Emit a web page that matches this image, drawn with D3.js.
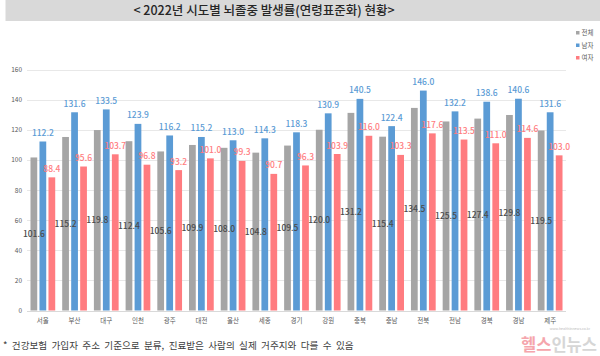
<!DOCTYPE html>
<html><head><meta charset="utf-8">
<script src="https://cdn.jsdelivr.net/npm/d3@7"></script>
<style>
html,body{margin:0;padding:0;background:#fff;}
svg{display:block;font-family:"Noto Sans CJK KR","Noto Sans",sans-serif;}
</style></head>
<body>
<svg id="c" width="600" height="356"></svg>
<script>
const categories = ["서울","부산","대구","인천","광주","대전","울산","세종","경기","강원","충북","충남","전북","전남","경북","경남","제주"];
const totalValues = [101.6,115.2,119.8,112.4,105.6,109.9,108.0,104.8,109.5,120.0,131.2,115.4,134.5,125.5,127.4,129.8,119.5];
const maleValues  = [112.2,131.6,133.5,123.9,116.2,115.2,113.0,114.3,118.3,130.9,140.5,122.4,146.0,132.2,138.6,140.6,131.6];
const femaleValues= [88.4,95.6,103.7,96.8,93.2,101.0,99.3,90.7,96.3,103.9,116.0,103.3,117.6,113.5,111.0,114.6,103.0];
const seriesNames = ["전체","남자","여자"];
const yTicks = [0,20,40,60,80,100,120,140,160];
const titleText = "< 2022년 시도별 뇌졸중 발생률(연령표준화) 현황>";
const footnoteText = "* 건강보험 가입자 주소 기준으로 분류, 진료받은 사람의 실제 거주지와 다를 수 있음";

const colors = {"전체":"#A5A5A5","남자":"#5B9BD5","여자":"#FF7C80"};
const labelColors = {"전체":"#4a4a4a","남자":"#5B9BD5","여자":"#FF7C80"};
const seriesData = {"전체":totalValues,"남자":maleValues,"여자":femaleValues};

const svg = d3.select("#c");

// title band
svg.append("rect").attr("x",5.5).attr("y",0).attr("width",595).attr("height",21).attr("fill","#D9D9D9");
svg.append("text").attr("x",264).attr("y",15).attr("text-anchor","middle")
  .attr("font-size",12.5).attr("font-weight",500).attr("fill","#262626").text(titleText);

const x0 = d3.scaleBand().domain(categories).range([27,566]).paddingInner(0.22).paddingOuter(0.11);
const x1 = d3.scaleBand().domain(seriesNames).range([0,x0.bandwidth()]).paddingInner(0.25);
const y = d3.scaleLinear().domain([0,160]).range([310.5,69.5]);

// grid
svg.append("g").selectAll("line").data(yTicks).join("line")
  .attr("x1",27).attr("x2",566).attr("y1",d=>Math.round(y(d))+0.5).attr("y2",d=>Math.round(y(d))+0.5)
  .attr("stroke",d=>d===0?"#D9D9D9":"#E8E8E8").attr("stroke-width",1);

// y axis labels
const yAxis = d3.axisLeft(y).tickValues(yTicks).tickSize(0).tickPadding(0);
const ya = svg.append("g").attr("transform","translate(22,0)").call(yAxis);
ya.select(".domain").remove();
ya.selectAll("text").attr("font-size",6.5).attr("fill","#595959").attr("font-family","'Noto Sans CJK KR',sans-serif");

// bars
const groups = svg.append("g").selectAll("g").data(categories).join("g")
  .attr("transform",d=>`translate(${x0(d)},0)`);
groups.selectAll("rect").data((c,i)=>seriesNames.map(s=>({s,v:seriesData[s][i]}))).join("rect")
  .attr("x",d=>x1(d.s)).attr("width",x1.bandwidth())
  .attr("y",d=>y(d.v)).attr("height",d=>y(0)-y(d.v)).attr("fill",d=>colors[d.s]);

// labels
groups.selectAll("text.v").data((c,i)=>seriesNames.map(s=>({s,v:seriesData[s][i]}))).join("text")
  .attr("class","v")
  .attr("x",d=>x1(d.s)+x1.bandwidth()/2)
  .attr("y",d=>d.s==="전체" ? (y(d.v)+y(0))/2+3 : y(d.v)-5.5)
  .attr("text-anchor","middle").attr("font-size",8.5).attr("font-weight",500)
  .attr("fill",d=>labelColors[d.s]).text(d=>d.v.toFixed(1));

// x axis labels
const xa = svg.append("g").attr("transform","translate(0,310.5)").call(d3.axisBottom(x0).tickSize(0).tickPadding(8));
xa.select(".domain").remove();
xa.selectAll("text").attr("font-size",6.5).attr("fill","#595959").attr("font-family","'Noto Sans CJK KR',sans-serif");

// legend
const lg = svg.append("g").selectAll("g").data(seriesNames).join("g")
  .attr("transform",(d,i)=>`translate(576,${33+i*12.5})`);
lg.append("rect").attr("x",0).attr("y",-2).attr("width",3.5).attr("height",3.5).attr("fill",d=>colors[d]);
lg.append("text").attr("x",5.5).attr("y",2).attr("font-size",6.5).attr("fill","#595959").text(d=>d);

// footnote
svg.append("text").attr("x",3).attr("y",349).attr("font-size",9.6).attr("word-spacing",2.2)
  .attr("fill","#404040").text(footnoteText);

// watermark
svg.append("text").attr("x",590).attr("y",330).attr("text-anchor","end").attr("font-size",3.5).attr("fill","#bbb").text("www.healthinnews.co.kr");
const wm = svg.append("text").attr("x",521).attr("y",351).attr("font-size",16.5).attr("font-weight",700)
  .attr("textLength",76).attr("lengthAdjust","spacingAndGlyphs");
wm.append("tspan").attr("fill","#F5A5AC").text("헬스");
wm.append("tspan").attr("fill","#D6D6D6").text("인뉴스");
</script>
</body></html>
